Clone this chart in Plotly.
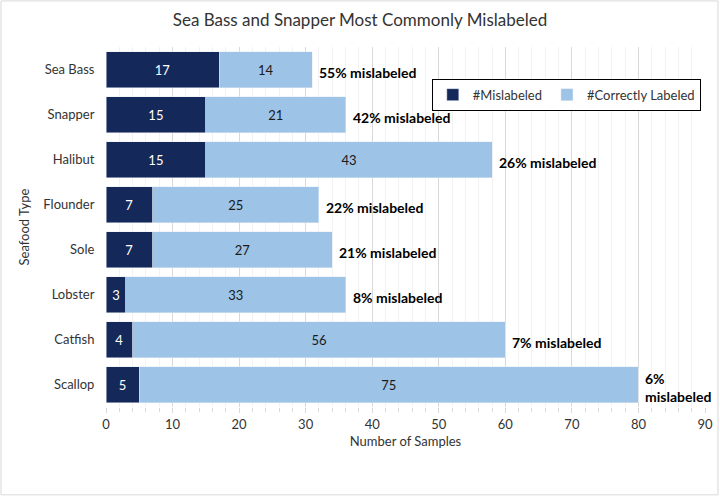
import plotly.graph_objects as go

# data
seafood = ["Sea Bass", "Snapper", "Halibut", "Flounder", "Sole", "Lobster", "Catfish", "Scallop"]
mislabeled = [17, 15, 15, 7, 7, 3, 4, 5]
correct = [14, 21, 43, 25, 27, 33, 56, 75]

dark = "#14295a"
light = "#9dc3e6"
font = "Lato"

fig = go.Figure()
fig.add_trace(go.Bar(y=seafood, x=mislabeled, orientation="h", name="#Mislabeled",
                     marker=dict(color=dark), text=mislabeled, textposition="inside",
                     insidetextanchor="middle", textfont=dict(color="white", size=13, family=font)))
fig.add_trace(go.Bar(y=seafood, x=correct, orientation="h", name="#Correctly Labeled",
                     marker=dict(color=light), text=correct, textposition="inside",
                     insidetextanchor="middle", textfont=dict(color="#1a1a1a", size=13, family=font)))

# percentage labels at the end of each bar
for cat, m, c in zip(seafood, mislabeled, correct):
    total = m + c
    pct = round(100 * m / total)
    txt = "%d%% mislabeled" % pct
    if total > 75:
        txt = "%d%%<br>mislabeled" % pct
    fig.add_annotation(x=total, y=cat, text="<b>" + txt + "</b>", showarrow=False,
                       xanchor="left", align="left", xshift=5, yshift=-3,
                       font=dict(size=14, color="black", family=font))

# outer chart border
fig.add_shape(type="rect", xref="paper", yref="paper", x0=-0.1753, x1=1.0217, y0=-0.244, y1=1.128,
              line=dict(color="#d9d9d9", width=1))

fig.update_layout(
    width=720, height=497,
    margin=dict(l=106, r=15, t=47, b=90, autoexpand=False),
    barmode="stack", bargap=0.2,
    plot_bgcolor="white", paper_bgcolor="white",
    font=dict(family=font, size=13, color="#333333"),
    title=dict(text="Sea Bass and Snapper Most Commonly Mislabeled", x=0.5, xanchor="center",
               y=0.972, font=dict(size=17, color="#333333")),
    legend=dict(orientation="h", x=0.993, xanchor="right", y=0.912, yanchor="top",
                traceorder="normal", itemwidth=30,
                bordercolor="black", borderwidth=1, bgcolor="white",
                font=dict(size=13, color="#333333")),
    uniformtext=dict(mode="show", minsize=11),
)
fig.update_xaxes(range=[0, 90], dtick=10, showgrid=True, gridcolor="#d9d9d9",
                 minor=dict(dtick=2, showgrid=True, gridcolor="#f2f2f2", ticks="outside",
                            ticklen=4, tickcolor="#d9d9d9"),
                 ticks="outside", ticklen=5, tickcolor="#d9d9d9", zeroline=False,
                 automargin=False,
                 title=dict(text="Number of Samples", font=dict(size=13), standoff=6),
                 tickfont=dict(size=13))
fig.update_yaxes(autorange="reversed", ticks="outside", ticklen=8, tickcolor="rgba(0,0,0,0)",
                 automargin=False,
                 title=dict(text="Seafood Type", font=dict(size=13), standoff=10),
                 tickfont=dict(size=13))

# page body has a default 8px margin; drop it so the figure sits at the corner
fig.write_html("out.html", config={"displayModeBar": False},
               post_script="document.body.style.margin='0';")
